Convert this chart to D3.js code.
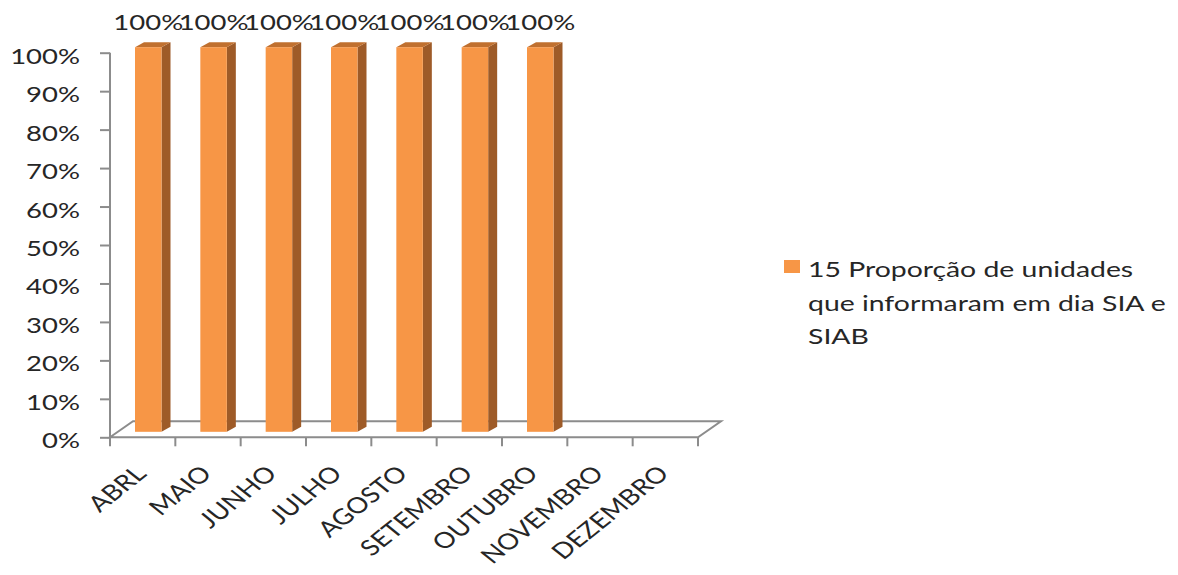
<!DOCTYPE html>
<html>
<head>
<meta charset="utf-8">
<script src="https://cdn.jsdelivr.net/npm/d3@7"></script>
<style>
  html, body { margin: 0; padding: 0; background: #fff; }
  svg { display: block; }
  text { font-family: Lato, "Open Sans", sans-serif; font-weight: 400; fill: #262626; }
</style>
</head>
<body>
<div id="chart"></div>
<script>
const categories = ["ABRL", "MAIO", "JUNHO", "JULHO", "AGOSTO", "SETEMBRO", "OUTUBRO", "NOVEMBRO", "DEZEMBRO"];
const values = [1, 1, 1, 1, 1, 1, 1, null, null];
const valueLabels = ["100%", "100%", "100%", "100%", "100%", "100%", "100%", "", ""];
const yTicks = [0, 0.1, 0.2, 0.3, 0.4, 0.5, 0.6, 0.7, 0.8, 0.9, 1];
const seriesName = ["15 Proporção de unidades", "que informaram em dia SIA e", "SIAB"];

const W = 1178, H = 575;
const SX = 1.25; // horizontal stretch of text
const svg = d3.select("#chart").append("svg").attr("width", W).attr("height", H);

const x = d3.scaleBand().domain(categories).range([110, 698]).padding(0);
const y = d3.scaleLinear().domain([0, 1]).range([437.3, 52.7]);

const axisColor = "#8c8c8c";
const floorDX = 23, floorDY = -16;

function stext(parent, px, py, str, opts = {}) {
  const g = parent.append("g")
    .attr("transform", `translate(${px},${py}) scale(${opts.sx || SX},1) rotate(${opts.rot || 0})`);
  return g.append("text")
    .attr("text-anchor", opts.anchor || "start")
    .attr("font-size", opts.size || 22)
    .text(str);
}

// floor
const x0 = x.range()[0], x1 = x.range()[1], yb = y(0);
svg.append("path")
  .attr("d", `M${x0},${yb} L${x0 + floorDX},${yb + floorDY} L${x1 + floorDX},${yb + floorDY} L${x1},${yb} Z`)
  .attr("fill", "none").attr("stroke", axisColor).attr("stroke-width", 2);

// y axis
const yAxis = d3.axisLeft(y).tickValues(yTicks).tickSize(10).tickFormat("");
const yg = svg.append("g").attr("transform", `translate(${x0},0)`).call(yAxis);
yg.select(".domain").attr("stroke", axisColor).attr("stroke-width", 2).attr("d", `M0,${y(1)}V${y(0)}`);
yg.selectAll(".tick line").attr("stroke", axisColor).attr("stroke-width", 2);
yTicks.forEach(t => {
  stext(svg, 80, y(t) + 11, d3.format(".0%")(t), { anchor: "end" });
});

// x axis ticks
const xTickPos = categories.map(c => x(c)).concat([x1]);
svg.selectAll(".xtick").data(xTickPos).enter().append("line")
  .attr("x1", d => d).attr("x2", d => d)
  .attr("y1", yb).attr("y2", yb + 9)
  .attr("stroke", axisColor).attr("stroke-width", 2);

// bars
const barW = 26.5, offX = 25, offY = -5.5, ddx = 9, ddy = -5;
const cFront = "#F79646", cSide = "#9E5B28", cTop = "#C0702F";
categories.forEach((c, i) => {
  const v = values[i];
  if (v == null) return;
  const L = x(c) + offX, R = L + barW;
  const T = y(v) + offY, B = y(0) + offY;
  svg.append("path").attr("d", `M${R},${T} L${R + ddx},${T + ddy} L${R + ddx},${B + ddy} L${R},${B} Z`).attr("fill", cSide);
  svg.append("path").attr("d", `M${L},${T} L${L + ddx},${T + ddy} L${R + ddx},${T + ddy} L${R},${T} Z`).attr("fill", cTop);
  svg.append("rect").attr("x", L).attr("y", T).attr("width", barW).attr("height", B - T).attr("fill", cFront);
  stext(svg, (L + R) / 2, 30, valueLabels[i], { anchor: "middle" });
});

// category labels
categories.forEach(c => {
  stext(svg, x(c) + x.bandwidth() / 2 + 5, 475, c, { anchor: "end", rot: -45 });
});

// legend
svg.append("rect").attr("x", 784).attr("y", 260).attr("width", 16).attr("height", 13).attr("fill", cFront);
seriesName.forEach((s, i) => {
  stext(svg, 808, 277 + i * 33.5, s, { sx: 1.29 });
});
</script>
</body>
</html>
